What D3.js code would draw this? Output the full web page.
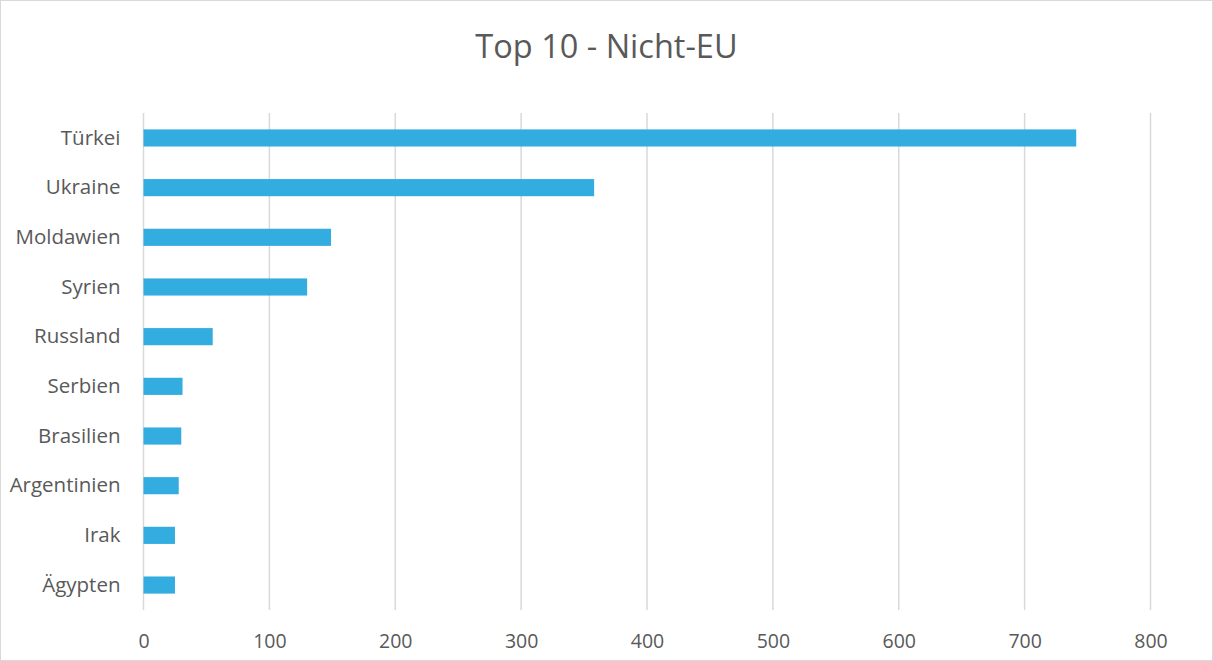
<!DOCTYPE html>
<html>
<head>
<meta charset="utf-8">
<script src="https://cdn.jsdelivr.net/npm/d3@7"></script>
<style>
  body { margin: 0; background: #fff; }
  svg { display: block; }
</style>
</head>
<body>
<svg id="chart"></svg>
<script>
const width = 1213;
const height = 661;

const countries = ['Türkei', 'Ukraine', 'Moldawien', 'Syrien', 'Russland', 'Serbien', 'Brasilien', 'Argentinien', 'Irak', 'Ägypten'];
const counts = [741, 358, 149, 130, 55, 31, 30, 28, 25, 25];
const xTicks = [0, 100, 200, 300, 400, 500, 600, 700, 800];

const margin = {top: 113, right: 62, bottom: 51, left: 143.5};

const svg = d3.select('#chart')
              .attr('width', width)
              .attr('height', height);

// Chart border
svg.append('rect')
   .attr('x', 0.5)
   .attr('y', 0.5)
   .attr('width', width - 1)
   .attr('height', height - 1)
   .attr('fill', '#fff')
   .attr('stroke', '#d9d9d9');

const x = d3.scaleLinear()
            .domain([0, 800])
            .range([margin.left, width - margin.right - 0.5]);

const y = d3.scaleBand()
            .domain(countries)
            .range([margin.top, height - margin.bottom])
            .paddingInner(0.655)
            .paddingOuter(0.33);

// Gridlines
svg.append('g')
   .selectAll('line')
   .data(xTicks)
   .join('line')
   .attr('x1', d => x(d))
   .attr('x2', d => x(d))
   .attr('y1', margin.top)
   .attr('y2', height - margin.bottom)
   .attr('stroke', '#d9d9d9')
   .attr('stroke-width', 1.5);

// Bars
svg.append('g')
   .selectAll('rect')
   .data(countries)
   .join('rect')
   .attr('x', x(0))
   .attr('y', d => y(d))
   .attr('width', (d, i) => x(counts[i]) - x(0))
   .attr('height', y.bandwidth())
   .attr('fill', '#33ace0');

// X axis labels
const xAxis = svg.append('g')
   .attr('transform', 'translate(0,' + (height - margin.bottom) + ')')
   .call(d3.axisBottom(x).tickValues(xTicks).tickSize(0).tickPadding(24));
xAxis.select('.domain').remove();
xAxis.selectAll('text')
     .attr('font-family', 'Open Sans, sans-serif')
     .attr('font-size', 19.5)
     .attr('fill', '#595959');

// Y axis labels
const yAxis = svg.append('g')
   .attr('transform', 'translate(' + margin.left + ',0)')
   .call(d3.axisLeft(y).tickSize(0).tickPadding(23));
yAxis.select('.domain').remove();
yAxis.selectAll('text')
     .attr('font-family', 'Open Sans, sans-serif')
     .attr('font-size', 20.5)
     .attr('fill', '#595959');

// Title
svg.append('text')
   .attr('x', width / 2)
   .attr('y', 58)
   .attr('text-anchor', 'middle')
   .attr('font-family', 'Open Sans, sans-serif')
   .attr('font-size', 32.5)
   .attr('fill', '#595959')
   .text('Top 10 - Nicht-EU');
</script>
</body>
</html>
